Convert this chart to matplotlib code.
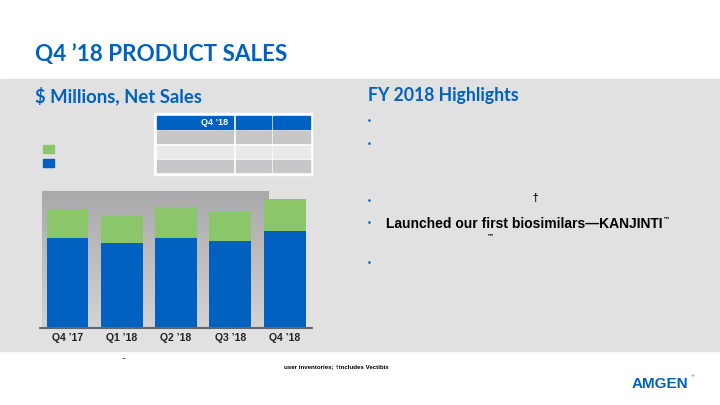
import numpy as np
import matplotlib.pyplot as plt
from matplotlib.patches import Rectangle
from matplotlib.colors import LinearSegmentedColormap

# quarterly net product sales, $ millions
quarters = ["Q4 \u201917", "Q1 \u201918", "Q2 \u201918", "Q3 \u201918", "Q4 \u201918"]
us_sales = [4100, 3870, 4110, 3970, 4420]
row_sales = [1330, 1280, 1440, 1380, 1490]

table_header = ["Q4 \u201918", "", ""]

blue = "#0061C0"
green = "#8BC66A"
band = "#E1E1E1"

fig = plt.figure(figsize=(7.2, 4.05), dpi=100)
fig.patch.set_facecolor("white")

# full-page axes in pixel coordinates for the slide layout
bg = fig.add_axes([0, 0, 1, 1])
bg.set_xlim(0, 720)
bg.set_ylim(405, 0)
bg.axis("off")

bg.add_patch(Rectangle((0, 79), 720, 272, color=band, zorder=0))

bg.text(35, 54, "Q4 \u201918 PRODUCT SALES", fontsize=16.2, fontweight="bold",
        family="Lato", color=blue, va="center", ha="left")
bg.text(35, 96, "$ Millions, Net Sales", fontsize=13.3, fontweight="bold",
        family="Lato", color=blue, va="center", ha="left")
bg.text(368, 96, "FY 2018 Highlights", fontsize=12.7, fontweight="bold",
        family="Lato", color=blue, va="center", ha="left")

# table (values hidden in the original)
bg.add_patch(Rectangle((154.3, 113.3), 157.7, 61.4, color="white", zorder=1))
cols = [(156.7, 233.3), (235.7, 271), (273.3, 310)]
rows = [(115.5, 128.5, blue), (130.7, 143.3, "#C7C7C9"),
        (145.7, 157.7, "#E9E9E9"), (160, 172.3, "#C7C7C9")]
for y0, y1, c in rows:
    for x0, x1 in cols:
        bg.add_patch(Rectangle((x0, y0), x1 - x0, y1 - y0, color=c, zorder=2))
bg.text(228, 122.2, table_header[0], fontsize=6.5, fontweight="bold",
        family="Liberation Sans", color="white", ha="right", va="center", zorder=3)

# legend squares
bg.add_patch(Rectangle((43.3, 145), 11, 8, color=green, zorder=2))
bg.add_patch(Rectangle((43.3, 158.7), 11, 8, color=blue, zorder=2))

# highlight bullets
for yb in [121.7, 144.3, 201, 224, 263.3]:
    bg.text(369, yb, "\u2022", fontsize=6, color=blue, ha="center", va="center")
bg.text(535, 198, "\u2020", fontsize=7, fontweight="bold", color="black",
        ha="center", va="center", family="Liberation Sans")
bg.text(386, 224, "Launched our first biosimilars\u2014KANJINTI", fontsize=10,
        fontweight="bold", family="Liberation Sans", color="black",
        ha="left", va="center")
bg.text(663.5, 219.5, "\u2122", fontsize=5, fontweight="bold",
        family="DejaVu Sans", color="black", ha="left", va="center")
bg.text(490, 236, "\u2122", fontsize=5, fontweight="bold",
        family="DejaVu Sans", color="black", ha="center", va="center")

# footnote and logo
bg.text(124, 359, "\u2013", fontsize=5.5, color="#333333", ha="center", va="center")
bg.text(336.5, 367, "user inventories; \u2020includes Vectibix", fontsize=4.4,
        fontweight="bold", family="Liberation Sans", color="black",
        ha="center", va="center")
bg.text(660, 383.5, "AMGEN", fontsize=11, fontweight="bold",
        family="Liberation Sans", color=blue, ha="center", va="center")
bg.text(692.5, 376.5, "\u00ae", fontsize=3, color=blue, ha="center", va="center")

# bar chart axes: x 40..312 px, y 190.7..327.5 px
ax = fig.add_axes([40 / 720, 1 - 327.5 / 405, 272 / 720, 136.8 / 405])
ax.patch.set_alpha(0)
x = np.arange(len(quarters))
ytop = 6295

grad = np.linspace(0, 1, 100).reshape(-1, 1)
ax.imshow(grad, cmap=LinearSegmentedColormap.from_list("g", ["#A9A8AA", "#D3D3D5"]),
          extent=(-0.469, 3.711, 0, ytop), aspect="auto", origin="upper", zorder=0)

ax.bar(x, us_sales, width=0.77, color=blue, zorder=2)
ax.bar(x, row_sales, width=0.77, bottom=us_sales, color=green, zorder=2)

ax.set_xlim(-0.506, 4.503)
ax.set_ylim(0, ytop)
ax.set_yticks([])
ax.set_xticks(x)
ax.set_xticklabels(quarters, fontsize=7.5, fontweight="bold",
                   family="Liberation Sans", color="#222222")
ax.tick_params(axis="x", length=0, pad=4)
for s in ["top", "left", "right"]:
    ax.spines[s].set_visible(False)
ax.spines["bottom"].set_color("#666666")
ax.spines["bottom"].set_linewidth(1.5)

fig.savefig("out.png", dpi=100, facecolor="white")
